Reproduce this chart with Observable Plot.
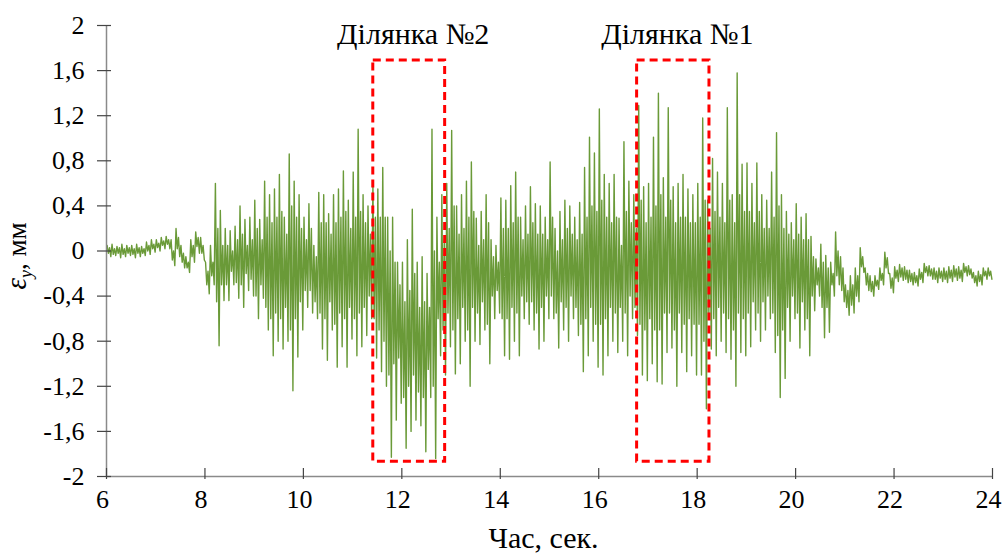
<!DOCTYPE html>
<html>
<head>
<meta charset="utf-8">
<script src="https://cdn.jsdelivr.net/npm/d3@7"></script>
<script src="https://cdn.jsdelivr.net/npm/@observablehq/plot@0.6"></script>
<style>
  html, body { margin: 0; padding: 0; background: #fff; }
  #chart { width: 1003px; height: 555px; overflow: hidden; }
</style>
</head>
<body>
<div id="chart"></div>
<script>
// Signal in 0.1 s bins (6.0 ... 23.9 s):
// per bin the highest spike, the dense core band (low, high) and the lowest spike.
const binStart = 6.0;
const binWidth = 0.1;
const hiValues = [
  0.05,0.06,0.04,0.06,0.05,0.05,0.06,0.04,0.08,0.10,   // 6
  0.10,0.12,0.13,0.10,0.20,0.05,-0.05,0.10,0.17,0.12,  // 7
  -0.10,0.05,0.60,0.36,0.20,0.18,0.22,0.40,0.28,0.30,  // 8
  0.45,0.28,0.62,0.50,0.55,0.68,0.30,0.86,0.62,0.50,   // 9
  0.30,0.42,0.05,0.52,0.50,0.33,0.50,0.55,0.71,0.45,   // 10
  0.70,1.08,0.50,0.40,0.60,0.55,0.74,0.30,0.30,-0.10,  // 11
  -0.10,0.10,0.37,-0.10,-0.05,-0.20,1.08,0.30,0.50,0.60, // 12
  1.07,0.40,0.50,0.62,0.79,0.29,0.35,0.50,0.10,0.05,   // 13
  0.47,0.45,0.58,0.70,0.30,0.40,0.57,0.42,0.40,0.30,   // 14
  0.79,0.20,0.35,0.45,0.40,0.30,0.43,0.74,1.01,0.87,   // 15
  1.26,0.68,0.60,0.68,0.29,0.97,0.62,0.50,1.29,0.57,   // 16
  0.60,1.01,1.40,0.65,1.27,0.57,0.60,0.68,0.55,0.50,   // 17
  0.60,1.18,0.45,0.82,0.70,0.60,1.27,0.50,1.58,0.77,   // 18
  0.78,0.60,0.78,0.50,0.45,0.70,1.05,0.50,0.35,0.25,   // 19
  0.42,0.30,0.33,0.13,-0.07,0.06,-0.04,-0.10,0.17,-0.05, // 20
  -0.30,-0.22,-0.15,0.03,-0.15,-0.22,-0.22,-0.15,-0.01,-0.20, // 21
  -0.14,-0.12,-0.14,-0.17,-0.19,-0.16,-0.11,-0.13,-0.15,-0.15, // 22
  -0.15,-0.14,-0.13,-0.14,-0.11,-0.13,-0.19,-0.18,-0.15,-0.15  // 23
];
const coreLoValues = [
  -0.02,-0.03,-0.02,-0.03,-0.02,-0.03,-0.02,-0.02,0.00,0.02,   // 6
  0.03,0.05,0.06,-0.08,0.02,-0.10,-0.15,-0.05,0.04,-0.02,      // 7
  -0.30,-0.22,-0.45,-0.30,-0.30,-0.18,-0.28,-0.30,-0.20,-0.25, // 8
  -0.40,-0.30,-0.50,-0.60,-0.55,-0.60,-0.50,-0.70,-0.60,-0.45, // 9
  -0.35,-0.35,-0.45,-0.55,-0.60,-0.45,-0.65,-0.55,-0.60,-0.50, // 10
  -0.60,-0.55,-0.50,-0.40,-0.60,-0.70,-0.80,-1.10,-1.00,-0.95, // 11
  -1.30,-1.20,-1.10,-1.25,-1.30,-1.05,-1.20,-0.60,-0.70,-0.55, // 12
  -0.70,-0.60,-0.50,-0.70,-0.50,-0.55,-0.45,-0.65,-0.40,-0.35, // 13
  -0.60,-0.60,-0.50,-0.55,-0.40,-0.45,-0.45,-0.55,-0.50,-0.40, // 14
  -0.40,-0.55,-0.45,-0.50,-0.40,-0.50,-0.65,-0.60,-0.50,-0.65, // 15
  -0.65,-0.60,-0.50,-0.55,-0.50,-0.55,-0.40,-0.50,-0.65,-0.70, // 16
  -0.60,-0.70,-0.70,-0.55,-0.55,-0.70,-0.55,-0.65,-0.60,-0.65, // 17
  -0.65,-0.80,-0.55,-0.60,-0.50,-0.55,-0.60,-0.70,-0.55,-0.60, // 18
  -0.55,-0.45,-0.55,-0.45,-0.40,-0.55,-0.75,-0.70,-0.50,-0.40, // 19
  -0.55,-0.45,-0.60,-0.40,-0.30,-0.50,-0.50,-0.30,-0.22,-0.35, // 20
  -0.50,-0.48,-0.40,-0.14,-0.30,-0.36,-0.31,-0.26,-0.15,-0.33, // 21
  -0.24,-0.23,-0.25,-0.27,-0.28,-0.25,-0.19,-0.22,-0.25,-0.24, // 22
  -0.25,-0.24,-0.23,-0.24,-0.19,-0.21,-0.28,-0.27,-0.22,-0.22  // 23
];
const coreHiValues = [
  0.03,0.02,0.03,0.02,0.03,0.02,0.03,0.02,0.05,0.06,           // 6
  0.07,0.09,0.10,0.00,0.12,-0.02,-0.10,0.05,0.12,0.05,         // 7
  -0.18,-0.10,0.20,0.05,0.05,0.00,0.10,0.15,0.05,0.10,         // 8
  0.20,0.10,0.30,0.25,0.30,0.35,0.15,0.40,0.30,0.20,           // 9
  0.10,0.20,-0.05,0.25,0.25,0.15,0.25,0.30,0.35,0.20,          // 10
  0.30,0.35,0.25,0.15,0.30,0.30,0.30,0.00,-0.10,-0.30,         // 11
  -0.45,-0.35,-0.20,-0.50,-0.45,-0.50,0.00,-0.10,0.10,0.20,    // 12
  0.40,0.15,0.20,0.30,0.35,0.05,0.10,0.25,-0.05,-0.10,         // 13
  0.20,0.20,0.25,0.30,0.10,0.15,0.25,0.15,0.15,0.10,           // 14
  0.30,0.00,0.10,0.20,0.15,0.10,0.15,0.30,0.40,0.35,           // 15
  0.45,0.30,0.25,0.30,0.05,0.35,0.25,0.20,0.45,0.25,           // 16
  0.30,0.40,0.50,0.30,0.45,0.25,0.30,0.30,0.25,0.25,           // 17
  0.30,0.45,0.20,0.35,0.30,0.25,0.45,0.25,0.50,0.35,           // 18
  0.35,0.25,0.35,0.20,0.20,0.30,0.40,0.20,0.15,0.10,           // 19
  0.15,0.10,0.10,-0.05,-0.15,-0.10,-0.15,-0.20,0.00,-0.15,     // 20
  -0.35,-0.30,-0.22,-0.05,-0.20,-0.27,-0.26,-0.20,-0.06,-0.24, // 21
  -0.17,-0.15,-0.17,-0.20,-0.22,-0.19,-0.14,-0.16,-0.18,-0.18, // 22
  -0.18,-0.17,-0.16,-0.17,-0.14,-0.16,-0.22,-0.21,-0.18,-0.18  // 23
];
const loValues = [
  -0.05,-0.04,-0.06,-0.05,-0.04,-0.06,-0.05,-0.04,-0.03,-0.01, // 6
  0.00,0.02,0.02,-0.13,-0.05,-0.15,-0.19,-0.10,-0.02,-0.08,    // 7
  -0.38,-0.30,-0.84,-0.44,-0.44,-0.30,-0.42,-0.50,-0.35,-0.40, // 8
  -0.60,-0.42,-0.70,-0.93,-0.80,-0.87,-0.80,-1.24,-0.94,-0.70, // 9
  -0.50,-0.55,-0.60,-0.87,-0.97,-0.70,-1.03,-0.85,-1.03,-0.78, // 10
  -0.93,-0.85,-0.75,-0.60,-0.95,-1.07,-1.20,-1.83,-1.50,-1.35, // 11
  -1.75,-1.60,-1.50,-1.55,-1.78,-1.30,-1.84,-0.93,-1.10,-0.85, // 12
  -1.09,-1.00,-0.80,-1.20,-0.80,-0.83,-0.70,-1.00,-0.60,-0.55, // 13
  -0.93,-0.96,-0.80,-0.93,-0.60,-0.65,-0.70,-0.87,-0.80,-0.60, // 14
  -0.60,-0.86,-0.70,-0.80,-0.60,-0.75,-1.07,-0.93,-0.80,-1.03, // 15
  -1.10,-0.93,-0.80,-0.90,-0.80,-0.93,-0.60,-0.75,-1.10,-1.15, // 16
  -1.00,-1.16,-1.18,-0.90,-0.86,-1.20,-0.90,-1.07,-0.93,-1.10, // 17
  -1.10,-1.40,-0.87,-0.93,-0.80,-0.90,-0.96,-1.20,-0.90,-0.93, // 18
  -0.85,-0.70,-0.80,-0.70,-0.60,-0.90,-1.30,-1.13,-0.80,-0.60, // 19
  -0.86,-0.70,-0.93,-0.53,-0.40,-0.77,-0.72,-0.40,-0.30,-0.45, // 20
  -0.57,-0.55,-0.45,-0.19,-0.35,-0.40,-0.34,-0.30,-0.20,-0.37, // 21
  -0.27,-0.26,-0.28,-0.30,-0.31,-0.28,-0.22,-0.25,-0.28,-0.27, // 22
  -0.28,-0.27,-0.26,-0.27,-0.22,-0.24,-0.31,-0.30,-0.25,-0.25  // 23
];

// Highlighted zones (time range and vertical extent of the dashed boxes)
const zoneNames = ["Ділянка №2", "Ділянка №1"];
const zoneStart = [11.42, 16.78];
const zoneEnd = [12.88, 18.25];
const zoneTop = [1.69, 1.69];
const zoneBottom = [-1.87, -1.87];

// Axis ticks
const xTicks = [6, 8, 10, 12, 14, 16, 18, 20, 22, 24];
const yTicks = [-2, -1.6, -1.2, -0.8, -0.4, 0, 0.4, 0.8, 1.2, 1.6, 2];
const yTickLabels = ["-2", "-1,6", "-1,2", "-0,8", "-0,4", "0", "0,4", "0,8", "1,2", "1,6", "2"];
const xLabel = "Час, сек.";

// Build the signal: per bin, peak -> core low -> core high -> trough
const signal = [];
hiValues.forEach((h, i) => {
  const t = binStart + i * binWidth;
  signal.push({t: t + binWidth * 0.125, v: h});
  signal.push({t: t + binWidth * 0.375, v: coreLoValues[i]});
  signal.push({t: t + binWidth * 0.625, v: coreHiValues[i]});
  signal.push({t: t + binWidth * 0.875, v: loValues[i]});
});
const zones = zoneNames.map((name, i) => ({
  name, t0: zoneStart[i], t1: zoneEnd[i], top: zoneTop[i], bottom: zoneBottom[i]
}));

const serif = "Liberation Serif, Times New Roman, serif";
const plot = Plot.plot({
  width: 1003,
  height: 555,
  marginLeft: 106,
  marginRight: 11,
  marginTop: 25,
  marginBottom: 79,
  style: {fontFamily: serif, fontSize: "26px", color: "#000", background: "#fff"},
  x: {domain: [6, 24]},
  y: {domain: [-2, 2]},
  marks: [
    Plot.line(signal, {x: "t", y: "v", stroke: "#6a9a38", strokeWidth: 1.4}),
    Plot.rect(zones, {x1: "t0", x2: "t1", y1: "bottom", y2: "top", fill: "none",
      stroke: "#ff0000", strokeWidth: 3, strokeDasharray: "8,5"}),
    Plot.text(zones, {x: d => (d.t0 + d.t1) / 2, frameAnchor: "top", dy: 9, dx: 4,
      text: "name", fontSize: 30, fontFamily: serif, fill: "#000", lineAnchor: "middle"}),
    Plot.ruleX([6], {stroke: "#8a8a8a", strokeWidth: 1.5}),
    Plot.ruleY([-2], {stroke: "#8a8a8a", strokeWidth: 1.5}),
    Plot.axisY(yTicks, {tickSize: 14, dx: 5, stroke: "#444", strokeWidth: 1.2, label: null,
      tickFormat: () => ""}),
    Plot.axisY(yTicks, {tickSize: 0, tickPadding: 22, fill: "#000", fontSize: 26, fontFamily: serif, label: null,
      tickFormat: d => yTickLabels[yTicks.indexOf(d)]}),
    Plot.axisX(xTicks, {tickSize: 11, dy: -8, stroke: "#444", strokeWidth: 1.2, label: null,
      tickFormat: () => ""}),
    Plot.axisX(xTicks, {tickSize: 0, tickPadding: 13, dx: -4, fill: "#000", fontSize: 26, fontFamily: serif, label: null,
      tickFormat: d => String(d)}),
    Plot.text([xLabel], {frameAnchor: "bottom", dy: 62, dx: -6, text: d => d, fontSize: 30, fontFamily: serif,
      fill: "#000", lineAnchor: "middle"})
  ]
});

// y-axis title with italic epsilon and subscript y
const svg = d3.select(plot);
const yt = svg.append("text")
  .attr("transform", "translate(26,256) rotate(-90)")
  .attr("text-anchor", "middle")
  .attr("font-family", serif)
  .attr("font-size", 27)
  .attr("fill", "#000");
yt.append("tspan").attr("font-style", "italic").attr("font-size", 29).text("ε");
yt.append("tspan").attr("font-style", "italic").attr("font-size", 18).attr("dy", 6).text("y");
yt.append("tspan").attr("dy", -6).text(", мм");

document.getElementById("chart").appendChild(plot);
</script>
</body>
</html>
